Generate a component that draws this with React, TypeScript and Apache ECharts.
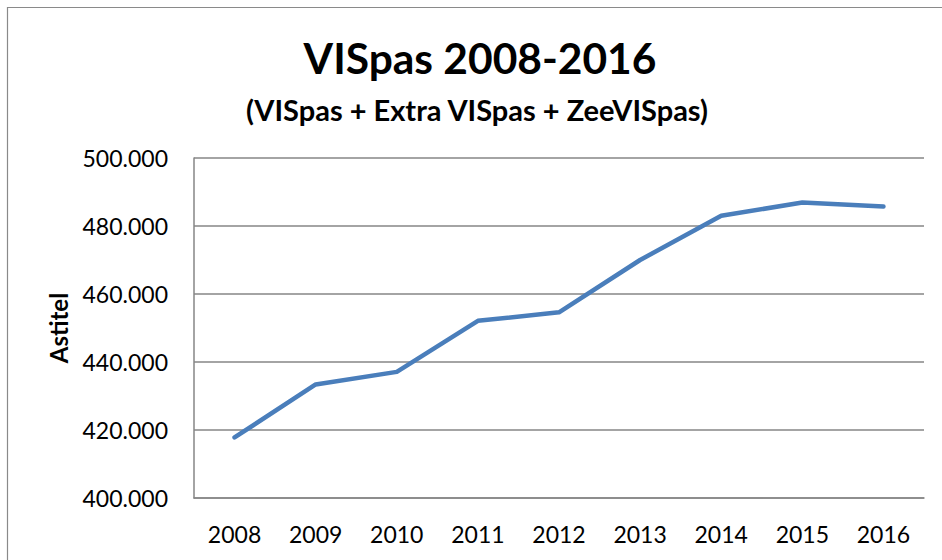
import React, { useEffect, useRef } from "react";
import * as echarts from "echarts";

const years = ["2008", "2009", "2010", "2011", "2012", "2013", "2014", "2015", "2016"];
const astitel = [417800, 433400, 437100, 452100, 454600, 470000, 483000, 486900, 485700];
const yMin = 400000;
const yMax = 500000;
const yStep = 20000;
const titleText = "VISpas 2008-2016";
const subtitleText = "(VISpas + Extra VISpas + ZeeVISpas)";
const yAxisName = "Astitel";

const fmt = (v: number) => String(Math.round(v)).replace(/\B(?=(\d{3})+(?!\d))/g, ".");

export default function App() {
  const ref = useRef<HTMLDivElement>(null);
  useEffect(() => {
    document.body.style.margin = "0";
    const chart = echarts.init(ref.current!, null, { renderer: "svg" });
    const font = "Lato, 'Liberation Sans', sans-serif";
    chart.setOption({
      animation: false,
      backgroundColor: "#ffffff",
      textStyle: { fontFamily: font },
      grid: { left: 194, top: 158, right: 18, bottom: 62, containLabel: false },
      graphic: [
        {
          type: "rect",
          shape: { x: 7.5, y: 7.5, width: 1200, height: 1200 },
          style: { fill: "none", stroke: "#8a8a8a", lineWidth: 1.2 },
          silent: true,
        },
        {
          type: "text",
          x: 480,
          y: 57,
          style: {
            text: titleText,
            font: `bold 42.5px ${font}`,
            fill: "#000",
            textAlign: "center",
            textVerticalAlign: "middle",
          },
        },
        {
          type: "text",
          x: 477,
          y: 109,
          style: {
            text: subtitleText,
            font: `bold 29px ${font}`,
            fill: "#000",
            textAlign: "center",
            textVerticalAlign: "middle",
          },
        },
        {
          type: "text",
          x: 58,
          y: 328,
          rotation: Math.PI / 2,
          style: {
            text: yAxisName,
            font: `bold 24px ${font}`,
            fill: "#000",
            textAlign: "center",
            textVerticalAlign: "middle",
          },
        },
      ],
      xAxis: {
        type: "category",
        data: years,
        boundaryGap: true,
        axisLine: { show: true, lineStyle: { color: "#868686", width: 1.5 } },
        axisTick: { show: false },
        axisLabel: { color: "#000", fontSize: 23, fontFamily: font, margin: 24 },
        splitLine: { show: false },
      },
      yAxis: {
        type: "value",
        min: yMin,
        max: yMax,
        interval: yStep,
        axisLine: { show: true, lineStyle: { color: "#868686", width: 1.5 } },
        axisTick: { show: false },
        axisLabel: { color: "#000", fontSize: 23, fontFamily: font, margin: 26, formatter: (v: number) => fmt(v) },
        splitLine: { show: true, lineStyle: { color: "#868686", width: 1.5 } },
      },
      series: [
        {
          type: "line",
          data: astitel,
          symbol: "none",
          lineStyle: { color: "#4a7ebb", width: 4.5, cap: "round", join: "round" },
          itemStyle: { color: "#4a7ebb" },
        },
      ],
    });
    return () => chart.dispose();
  }, []);
  return <div ref={ref} style={{ width: 942, height: 560 }} />;
}
